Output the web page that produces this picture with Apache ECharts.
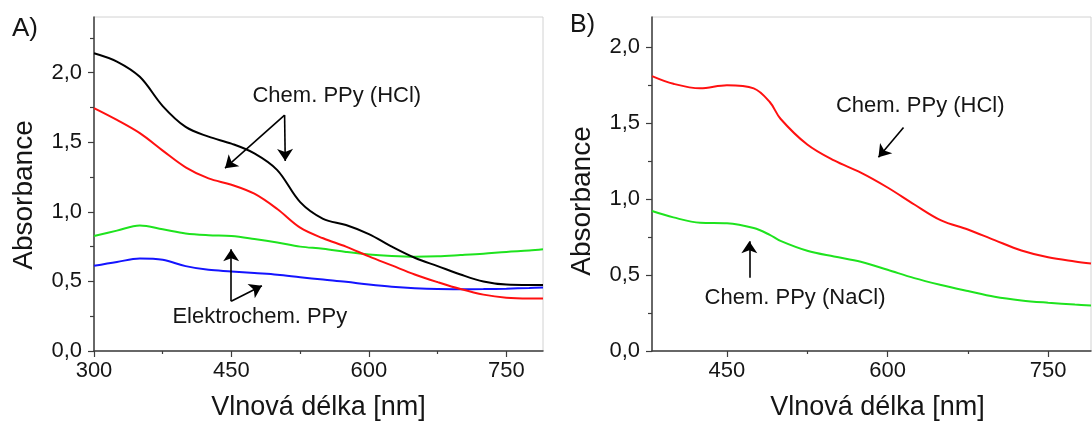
<!DOCTYPE html>
<html>
<head>
<meta charset="utf-8">
<script src="https://cdn.jsdelivr.net/npm/echarts@6/dist/echarts.min.js"></script>
<style>
  html, body { margin: 0; padding: 0; background: #fff; }
  #chart { width: 1092px; height: 426px; }
</style>
</head>
<body>
<div id="chart"></div>
<script>
// Panel A: UV-Vis spectra of chemically and electrochemically prepared PPy
const wavelengthA = [300, 325, 350, 375, 400, 425, 450, 475, 500, 525, 550, 575, 600, 625, 650, 675, 700, 725, 750, 775, 790];
const chemHCl1A  = [2.14, 2.08, 1.97, 1.76, 1.61, 1.54, 1.49, 1.42, 1.30, 1.07, 0.95, 0.905, 0.84, 0.75, 0.67, 0.61, 0.55, 0.50, 0.478, 0.475, 0.475];
const chemHCl2A  = [1.745, 1.66, 1.565, 1.44, 1.32, 1.24, 1.195, 1.13, 1.02, 0.886, 0.81, 0.75, 0.68, 0.615, 0.55, 0.495, 0.445, 0.405, 0.383, 0.378, 0.378];
const elektro1A  = [0.826, 0.865, 0.902, 0.875, 0.845, 0.832, 0.826, 0.805, 0.78, 0.75, 0.735, 0.712, 0.693, 0.682, 0.677, 0.68, 0.689, 0.699, 0.712, 0.722, 0.731];
const elektro2A  = [0.612, 0.64, 0.664, 0.655, 0.61, 0.583, 0.572, 0.56, 0.548, 0.53, 0.513, 0.497, 0.478, 0.462, 0.451, 0.445, 0.444, 0.445, 0.448, 0.453, 0.457];

// Panel B: chemical PPy prepared in HCl and in NaCl
const wavelengthB = [380, 400, 425, 450, 475, 490, 500, 525, 550, 575, 600, 625, 650, 675, 700, 725, 750, 775, 790];
const chemHClB    = [1.811, 1.76, 1.73, 1.75, 1.73, 1.64, 1.53, 1.36, 1.255, 1.175, 1.077, 0.965, 0.86, 0.80, 0.73, 0.662, 0.617, 0.59, 0.577];
const chemNaClB   = [0.922, 0.88, 0.845, 0.842, 0.81, 0.765, 0.725, 0.66, 0.622, 0.588, 0.535, 0.48, 0.435, 0.395, 0.357, 0.333, 0.318, 0.306, 0.300];

// Tick values
const xTicksA = [300, 450, 600, 750];
const xMinorA = [375, 525, 675];
const yTicksA = [0, 0.5, 1.0, 1.5, 2.0];
const yMinorA = [0.25, 0.75, 1.25, 1.75, 2.25];
const xTicksB = [450, 600, 750];
const xMinorB = [525, 675];
const yTicksB = [0, 0.5, 1.0, 1.5, 2.0];
const yMinorB = [0.25, 0.75, 1.25, 1.75];

// Annotation anchors in data units [wavelength, absorbance]
const noteHClA   = { text: 'Chem. PPy (HCl)', at: [565, 1.836] };
const arrowsHClA = [[[508, 1.695], [508.7, 1.366]], [[508, 1.695], [443, 1.314]]];
const noteElA    = { text: 'Elektrochem. PPy', at: [481, 0.243] };
const arrowsElA  = [[[449.7, 0.357], [449.7, 0.731]], [[449.7, 0.357], [483.2, 0.469]]];
const noteHClB   = { text: 'Chem. PPy (HCl)', at: [630.5, 1.612] };
const arrowsHClB = [[[614.9, 1.472], [591.5, 1.276]]];
const noteNaClB  = { text: 'Chem. PPy (NaCl)', at: [513.6, 0.347] };
const arrowsNaClB = [[[470.9, 0.483], [470.9, 0.723]]];

const FONT = 'Liberation Sans, Arial, sans-serif';
const TEXT = '#151515';
const AXIS = '#3c3c3c';
const fmt = v => v.toFixed(1).replace('.', ',');
const pairs = (xs, ys) => xs.map((x, i) => [x, ys[i]]);

function mainX(grid, min, max, ticks, nameShift) {
  return {
    type: 'value', gridIndex: grid, min, max, position: 'bottom',
    name: 'Vlnová délka [nm]', nameLocation: 'middle', nameGap: 43,
    nameTextStyle: { fontFamily: FONT, fontSize: 27, color: TEXT, padding: [0, 0, 0, nameShift] },
    axisLine: { show: true, onZero: false, lineStyle: { color: AXIS, width: 1.5 } },
    axisTick: { show: true, inside: false, length: 6, customValues: ticks, lineStyle: { color: AXIS, width: 1.2 } },
    axisLabel: { show: true, customValues: ticks, margin: 9, fontFamily: FONT, fontSize: 22, color: TEXT },
    splitLine: { show: false }
  };
}
function minorX(grid, min, max, ticks) {
  return {
    type: 'value', gridIndex: grid, min, max, position: 'bottom',
    axisLine: { show: false },
    axisTick: { show: true, length: 3, customValues: ticks, lineStyle: { color: AXIS, width: 1.2 } },
    axisLabel: { show: false }, splitLine: { show: false }
  };
}
function mainY(grid, max, ticks, nameShift) {
  return {
    type: 'value', gridIndex: grid, min: 0, max, position: 'left',
    name: 'Absorbance', nameLocation: 'middle', nameGap: 56, nameRotate: 90,
    nameTextStyle: { fontFamily: FONT, fontSize: 28, color: TEXT, padding: [0, nameShift, 0, 0] },
    axisLine: { show: true, onZero: false, lineStyle: { color: AXIS, width: 1.5 } },
    axisTick: { show: true, length: 6, customValues: ticks, lineStyle: { color: AXIS, width: 1.2 } },
    axisLabel: { show: true, customValues: ticks, margin: 12, formatter: fmt, fontFamily: FONT, fontSize: 22, color: TEXT },
    splitLine: { show: false }
  };
}
function minorY(grid, max, ticks) {
  return {
    type: 'value', gridIndex: grid, min: 0, max, position: 'left',
    axisLine: { show: false },
    axisTick: { show: true, length: 4, customValues: ticks, lineStyle: { color: AXIS, width: 1.2 } },
    axisLabel: { show: false }, splitLine: { show: false }
  };
}

function curve(xIdx, yIdx, xs, ys, color, extras) {
  return Object.assign({
    type: 'line', xAxisIndex: xIdx, yAxisIndex: yIdx,
    data: pairs(xs, ys), showSymbol: false, smooth: 0.35,
    lineStyle: { color, width: 2 }, itemStyle: { color },
    silent: true, animation: false, z: 3
  }, extras || {});
}

function arrows(list) {
  return {
    silent: true, animation: false,
    symbol: ['none', 'arrow'], symbolSize: 12,
    label: { show: false },
    lineStyle: { color: '#000', width: 1.6, type: 'solid' },
    emphasis: { disabled: true },
    data: list.map(seg => [{ coord: seg[0] }, { coord: seg[1] }])
  };
}
function notes(list) {
  return {
    silent: true, animation: false,
    symbol: 'circle', symbolSize: 1,
    itemStyle: { color: 'rgba(0,0,0,0)' },
    label: { show: true, position: 'inside', fontFamily: FONT, fontSize: 22, color: TEXT,
             formatter: p => p.name },
    emphasis: { disabled: true },
    data: list.map(n => ({ name: n.text, coord: n.at }))
  };
}

const chart = echarts.init(document.getElementById('chart'), null, { renderer: 'canvas' });
chart.setOption({
  backgroundColor: '#ffffff',
  animation: false,
  grid: [
    { left: 94, top: 17, width: 449, height: 337, show: true, borderColor: '#d2d2d2', borderWidth: 1, backgroundColor: 'transparent' },
    { left: 652, top: 17, width: 439, height: 336, show: true, borderColor: '#d2d2d2', borderWidth: 1, backgroundColor: 'transparent' }
  ],
  xAxis: [
    mainX(0, 300, 790, xTicksA, 0),
    minorX(0, 300, 790, xMinorA),
    mainX(1, 380, 790, xTicksB, 12),
    minorX(1, 380, 790, xMinorB)
  ],
  yAxis: [
    mainY(0, 2.4, yTicksA, 22),
    minorY(0, 2.4, yMinorA),
    mainY(1, 2.2, yTicksB, 34),
    minorY(1, 2.2, yMinorB)
  ],
  graphic: [
    { type: 'text', left: 12, top: 16, style: { text: 'A)', font: '26px ' + FONT, fill: TEXT } },
    { type: 'text', left: 570, top: 13, style: { text: 'B)', font: '25px ' + FONT, fill: TEXT } }
  ],
  series: [
    curve(0, 0, wavelengthA, elektro1A, '#1ee31e'),
    curve(0, 0, wavelengthA, elektro2A, '#1414ff'),
    curve(0, 0, wavelengthA, chemHCl2A, '#ff1010'),
    curve(0, 0, wavelengthA, chemHCl1A, '#000000', {
      markLine: arrows(arrowsHClA.concat(arrowsElA)),
      markPoint: notes([noteHClA, noteElA])
    }),
    curve(2, 2, wavelengthB, chemNaClB, '#1ee31e'),
    curve(2, 2, wavelengthB, chemHClB, '#ff1010', {
      markLine: arrows(arrowsHClB.concat(arrowsNaClB)),
      markPoint: notes([noteHClB, noteNaClB])
    })
  ]
});
</script>
</body>
</html>
